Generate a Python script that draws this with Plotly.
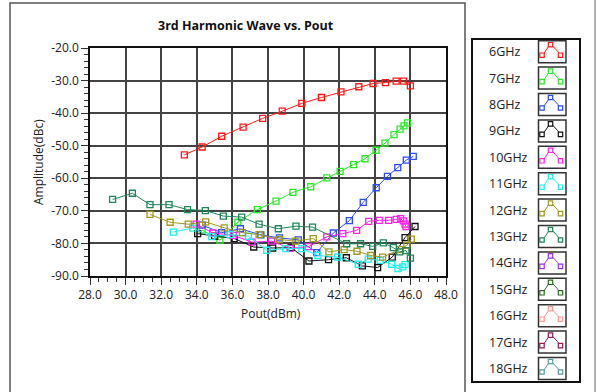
import plotly.graph_objects as go

# ---------------- data ----------------
x_6 = [33.3, 34.3, 35.4, 36.6, 37.7, 38.8, 39.9, 41.0, 42.1, 43.1, 43.9, 44.6, 45.2, 45.6, 46.0]
y_6 = [-52.8, -50.4, -47.1, -44.3, -41.6, -39.4, -37.0, -35.2, -33.5, -31.9, -30.9, -30.6, -30.2, -30.2, -31.6]

x_7 = [34.3, 35.3, 36.3, 37.4, 38.45, 39.4, 40.4, 41.3, 42.05, 42.8, 43.45, 44.07, 44.57, 45.08, 45.42, 45.64, 45.84]
y_7 = [-75.9, -79.0, -73.5, -69.6, -67.0, -64.3, -62.6, -59.9, -57.9, -55.8, -54.0, -51.4, -49.2, -46.6, -44.9, -43.9, -43.0]

x_8 = [34.3, 35.4, 36.45, 37.6, 38.65, 39.7, 40.74, 41.67, 42.57, 43.35, 44.08, 44.71, 45.29, 45.77, 46.16]
y_8 = [-74.4, -76.7, -75.5, -77.4, -78.3, -78.9, -82.8, -76.8, -73.0, -67.4, -62.9, -59.4, -56.7, -54.4, -53.3]

x_9 = [34.05, 35.0, 36.1, 37.2, 38.26, 39.3, 40.3, 41.4, 42.4, 43.3, 44.16, 44.98, 45.7, 46.26]
y_9 = [-77.0, -77.8, -78.5, -81.1, -81.4, -81.3, -85.4, -85.0, -84.4, -86.9, -87.4, -84.2, -78.2, -74.8]

x_10 = [33.96, 34.9, 36.05, 37.1, 38.2, 39.24, 40.27, 41.3, 42.2, 42.98, 43.66, 44.25, 44.78, 45.2, 45.45, 45.6, 45.7, 45.75]
y_10 = [-74.1, -76.8, -77.5, -79.6, -79.3, -81.5, -81.0, -78.0, -77.0, -76.0, -73.2, -72.9, -72.9, -72.6, -72.4, -73.1, -74.1, -74.8]

x_11 = [32.68, 33.77, 34.84, 35.87, 36.9, 37.93, 39.0, 39.9, 40.8, 41.9, 43.07, 43.63, 44.3, 44.95, 45.3, 45.57, 45.7]
y_11 = [-76.5, -75.3, -77.9, -77.3, -77.8, -82.1, -81.6, -81.6, -83.7, -84.2, -86.4, -84.8, -85.2, -86.4, -87.7, -87.2, -86.5]

x_12 = [31.37, 32.5, 33.52, 34.5, 35.54, 36.57, 37.5, 38.63, 39.56, 40.54, 41.42, 42.28, 43.0, 43.77, 44.44, 45.4, 45.8, 46.05]
y_12 = [-71.1, -73.5, -74.1, -73.4, -75.2, -76.7, -77.3, -78.8, -79.3, -78.5, -82.6, -81.9, -82.4, -83.7, -84.2, -81.9, -80.6, -78.7]

x_13 = [29.27, 30.38, 31.37, 32.44, 33.48, 34.48, 35.49, 36.52, 37.5, 38.58, 39.57, 40.5, 42.42, 43.2, 43.88, 44.48, 45.04, 45.4, 45.75, 46.0]
y_13 = [-66.5, -64.6, -68.1, -68.1, -69.6, -69.9, -71.6, -71.9, -74.1, -75.5, -74.7, -75.0, -80.1, -80.1, -80.9, -79.8, -81.3, -82.6, -82.2, -84.5]

series_names = ["6GHz", "7GHz", "8GHz", "9GHz", "10GHz", "11GHz", "12GHz", "13GHz",
                "14GHz", "15GHz", "16GHz", "17GHz", "18GHz"]
series_colors = ["#ff1a1a", "#2ee82e", "#2f4cf5", "#111111", "#ff22ee", "#22eeee", "#a09a22", "#22875a",
                 "#9a33f0", "#2a6a22", "#ff9a9a", "#9a1a5a", "#5a9a9a"]
series_x = [x_6, x_7, x_8, x_9, x_10, x_11, x_12, x_13]
series_y = [y_6, y_7, y_8, y_9, y_10, y_11, y_12, y_13]

x_tickvals = [28, 30, 32, 34, 36, 38, 40, 42, 44, 46, 48]
x_ticktext = ["28.0", "30.0", "32.0", "34.0", "36.0", "38.0", "40.0", "42.0", "44.0", "46.0", "48.0"]
y_tickvals = [-20, -30, -40, -50, -60, -70, -80, -90]
y_ticktext = ["-20.0", "-30.0", "-40.0", "-50.0", "-60.0", "-70.0", "-80.0", "-90.0"]

title_text = "3rd Harmonic Wave vs. Pout"
x_title = "Pout(dBm)"
y_title = "Amplitude(dBc)"

# ---------------- layout geometry (pixels) ----------------
W, H = 598, 392
ML, MR, MT, MB = 90, 152, 48, 116
PW, PH = W - ML - MR, H - MT - MB

def px(x):
    return (x - ML) / PW

def py(y):
    return (H - MB - y) / PH

FONT = "Open Sans"

fig = go.Figure()
for name, color, xs, ys in zip(series_names, series_colors, series_x, series_y):
    fig.add_trace(go.Scatter(
        x=xs, y=ys, mode="lines+markers", name=name, showlegend=False,
        line=dict(color=color, width=1),
        marker=dict(symbol="square-open", size=6, color=color, line=dict(width=1.3, color=color)),
    ))

shapes = []
annotations = []

# outer frames
shapes.append(dict(type="path", xref="paper", yref="paper",
                   path=f"M {px(10)} {py(396)} L {px(10)} {py(3)} L {px(465)} {py(3)} L {px(465)} {py(396)}",
                   line=dict(color="#555555", width=1.5)))
shapes.append(dict(type="line", xref="paper", yref="paper", x0=px(595), x1=px(595), y0=py(0), y1=py(396),
                   line=dict(color="#9a9a9a", width=1.5)))

# legend box
shapes.append(dict(type="rect", xref="paper", yref="paper", x0=px(472), x1=px(580), y0=py(39), y1=py(382),
                   line=dict(color="#111111", width=2), fillcolor="rgba(0,0,0,0)"))

for i, (name, color) in enumerate(zip(series_names, series_colors)):
    cy = 51.7 + i * 26.4
    annotations.append(dict(xref="paper", yref="paper", x=px(487), y=py(cy), text=name, showarrow=False,
                            xanchor="left", yanchor="middle",
                            font=dict(family=FONT, size=12.5, color="#222222")))
    L, T = 538.5, cy - 11
    shapes.append(dict(type="rect", xref="paper", yref="paper", x0=px(L), x1=px(L + 27.5), y0=py(T), y1=py(T + 22),
                       line=dict(color="#333333", width=1.5), fillcolor="white"))
    pts = [(L + 2.5, T + 17), (L + 12, T + 3), (L + 19, T + 10.5), (L + 22.5, T + 15.5)]
    path = "M " + " L ".join(f"{px(a)} {py(b)}" for a, b in pts)
    shapes.append(dict(type="path", xref="paper", yref="paper", path=path, line=dict(color=color, width=1)))
    for (mx, my) in [(L + 3.5, T + 14.5), (L + 12, T + 4), (L + 22, T + 14.5)]:
        shapes.append(dict(type="rect", xref="paper", yref="paper",
                           x0=px(mx - 2.2), x1=px(mx + 2.2), y0=py(my - 2.2), y1=py(my + 2.2),
                           line=dict(color=color, width=1.2), fillcolor="white"))

annotations.append(dict(xref="paper", yref="paper", x=px(246), y=py(26), text=f"<b>{title_text}</b>",
                        showarrow=False, xanchor="center", yanchor="middle",
                        font=dict(family=FONT, size=12.5, color="#111111")))
annotations.append(dict(xref="paper", yref="paper", x=px(271), y=py(313), text=x_title,
                        showarrow=False, xanchor="center", yanchor="middle",
                        font=dict(family=FONT, size=12, color="#222222")))
annotations.append(dict(xref="paper", yref="paper", x=px(38), y=py(162), text=y_title, textangle=-90,
                        showarrow=False, xanchor="center", yanchor="middle",
                        font=dict(family=FONT, size=12, color="#222222")))

axis_common = dict(showline=True, linecolor="#111111", linewidth=1.5, mirror=True,
                   showgrid=True, gridcolor="#444444", gridwidth=1.5, zeroline=False,
                   ticks="outside", ticklen=7, tickcolor="#333333", tickwidth=1,
                   tickfont=dict(family=FONT, size=12, color="#222222"))

fig.update_xaxes(range=[28, 48], tickmode="array", tickvals=x_tickvals, ticktext=x_ticktext,
                 minor=dict(tickmode="linear", tick0=28, dtick=0.5, ticks="outside", ticklen=4,
                            tickcolor="#333333", showgrid=False),
                 **axis_common)
fig.update_yaxes(range=[-90, -20], tickmode="array", tickvals=y_tickvals, ticktext=y_ticktext,
                 minor=dict(tickmode="linear", tick0=-90, dtick=2, ticks="outside", ticklen=4,
                            tickcolor="#333333", showgrid=False),
                 **axis_common)

fig.update_layout(width=W, height=H, margin=dict(l=ML, r=MR, t=MT, b=MB),
                  paper_bgcolor="white", plot_bgcolor="white",
                  shapes=shapes, annotations=annotations, showlegend=False)

fig.write_html("out.html")
